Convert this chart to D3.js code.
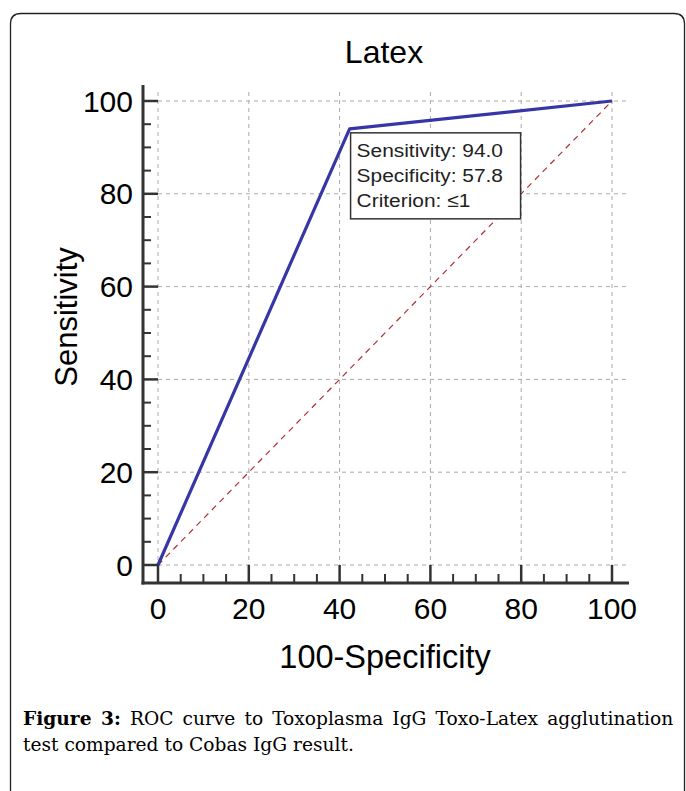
<!DOCTYPE html>
<html>
<head>
<meta charset="utf-8">
<script src="https://cdn.jsdelivr.net/npm/d3@7"></script>
<style>
  html, body { margin: 0; padding: 0; background: #fff; }
  svg { display: block; }
</style>
</head>
<body>
<svg id="chart" width="686" height="791"></svg>
<script>
//data
var rocX = [0, 42.2, 100];          // 100-Specificity
var rocY = [0, 94.0, 100];          // Sensitivity
var diagX = [0, 100];
var diagY = [0, 100];
var tickValues = [0, 20, 40, 60, 80, 100];
var minorValues = d3.range(0, 101, 5);
var boxLines = ['Sensitivity: 94.0', 'Specificity: 57.8', 'Criterion: \u22641'];
var cutIndex = 1;

var svg = d3.select('#chart');
var sans = 'Liberation Sans, Arial, sans-serif';
var serif = 'DejaVu Serif, Liberation Serif, serif';

//scales
var x = d3.scaleLinear().domain([0, 100]).range([158, 612]);
var y = d3.scaleLinear().domain([0, 100]).range([565, 101]);
var axisX = 143, axisY = 583;

//frame round the figure
svg.append('path')
  .attr('d', 'M10.5,791 L10.5,24 Q10.5,13.5 21,13.5 L674,13.5 Q684.5,13.5 684.5,24 L684.5,791')
  .attr('fill', 'none')
  .attr('stroke', '#222')
  .attr('stroke-width', 1.3);

//title
svg.append('text')
  .attr('x', 384).attr('y', 63)
  .attr('text-anchor', 'middle')
  .style('font', '32px ' + sans)
  .text('Latex');

//grid
var grid = svg.append('g').attr('stroke', '#aaa').attr('stroke-dasharray', '4,4').attr('stroke-width', 1);
grid.selectAll('.vg').data(tickValues).join('line')
  .attr('x1', d => x(d)).attr('x2', d => x(d))
  .attr('y1', 92).attr('y2', 580);
grid.selectAll('.hg').data(tickValues).join('line')
  .attr('y1', d => y(d)).attr('y2', d => y(d))
  .attr('x1', 150).attr('x2', 628);

//diagonal
svg.append('path')
  .datum(d3.zip(diagX, diagY))
  .attr('d', d3.line().x(d => x(d[0])).y(d => y(d[1])))
  .attr('fill', 'none')
  .attr('stroke', '#b03030')
  .attr('stroke-width', 1.2)
  .attr('stroke-dasharray', '6,5');

//roc curve
svg.append('path')
  .datum(d3.zip(rocX, rocY))
  .attr('d', d3.line().x(d => x(d[0])).y(d => y(d[1])))
  .attr('fill', 'none')
  .attr('stroke', '#3636a6')
  .attr('stroke-width', 3.2)
  .attr('stroke-linejoin', 'round');

//axes, major ticks run from the offset axis line to the data area
var axisG = svg.append('g').attr('stroke', '#333');
axisG.append('line').attr('x1', axisX).attr('x2', axisX).attr('y1', 85).attr('y2', axisY + 1.5).attr('stroke-width', 3);
axisG.append('line').attr('x1', axisX - 1.5).attr('x2', 629).attr('y1', axisY).attr('y2', axisY).attr('stroke-width', 3);
axisG.selectAll('.ym').data(minorValues).join('line')
  .attr('x1', axisX).attr('x2', d => d % 20 === 0 ? x(0) : axisX + 8)
  .attr('y1', d => y(d)).attr('y2', d => y(d))
  .attr('stroke-width', d => d % 20 === 0 ? 2.5 : 2);
axisG.selectAll('.xm').data(minorValues).join('line')
  .attr('y1', axisY).attr('y2', d => d % 20 === 0 ? y(0) : axisY - 9)
  .attr('x1', d => x(d)).attr('x2', d => x(d))
  .attr('stroke-width', d => d % 20 === 0 ? 2.5 : 2);

//tick labels
svg.selectAll('.yl').data(tickValues).join('text')
  .attr('x', 133).attr('y', d => y(d) + 10.5)
  .attr('text-anchor', 'end')
  .style('font', '30px ' + sans)
  .text(d => d);
svg.selectAll('.xl').data(tickValues).join('text')
  .attr('x', d => x(d)).attr('y', 619)
  .attr('text-anchor', 'middle')
  .style('font', '30px ' + sans)
  .text(d => d);

//axis titles
svg.append('text')
  .attr('x', 385).attr('y', 668)
  .attr('text-anchor', 'middle')
  .style('font', '32.5px ' + sans)
  .text('100-Specificity');
svg.append('text')
  .attr('transform', 'translate(77,317) rotate(-90)')
  .attr('text-anchor', 'middle')
  .style('font', '31px ' + sans)
  .text('Sensitivity');

//criterion box at the cut-off point
var bx = x(rocX[cutIndex]) + 1, by = y(rocY[cutIndex]) + 4;
var box = svg.append('g').attr('transform', `translate(${bx},${by})`);
box.append('rect')
  .attr('width', 170).attr('height', 86)
  .attr('fill', '#fff')
  .attr('stroke', '#333')
  .attr('stroke-width', 1.5);
box.selectAll('text').data(boxLines).join('text')
  .attr('transform', (d, i) => `translate(6,${24 + i * 25}) scale(1.1,1)`)
  .style('font', '19px ' + sans)
  .attr('fill', '#222')
  .text(d => d);

//caption, sized so the second line spans as in the figure
var cap2 = svg.append('text')
  .attr('x', 23).attr('y', 751)
  .style('font', '20px ' + serif)
  .text('test compared to Cobas IgG result.');
var capSize = 20 * 331 / cap2.node().getComputedTextLength();
cap2.style('font-size', capSize + 'px');

var cap = svg.append('text')
  .attr('x', 23).attr('y', 725)
  .style('font', capSize + 'px ' + serif);
cap.append('tspan').style('font-weight', 'bold').text('Figure 3:');
cap.append('tspan').text(' ROC curve to Toxoplasma IgG Toxo-Latex agglutination');
//justify first line with word spacing
var gaps = 7;
var extra = (647 - cap.node().getComputedTextLength()) / gaps;
cap.style('word-spacing', extra + 'px');
</script>
</body>
</html>
